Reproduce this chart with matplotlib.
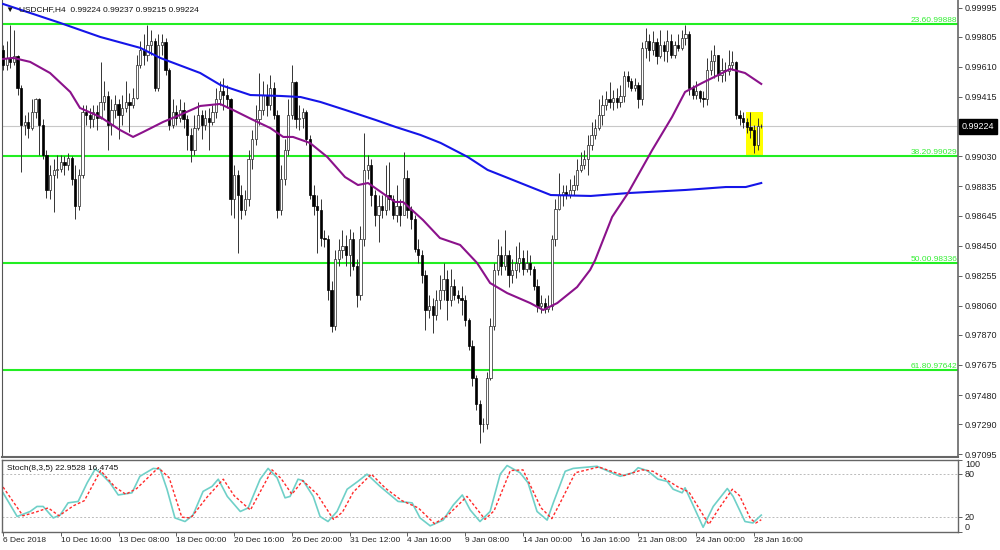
import numpy as np
import matplotlib
matplotlib.use("Agg")
import matplotlib.pyplot as plt
from matplotlib.transforms import blended_transform_factory
from matplotlib.patches import Rectangle

plt.rcParams['font.family'] = ['Liberation Sans', 'DejaVu Sans']

# USDCHF H4 candles, 6 Dec 2018 00:00 -> 29 Jan 2019
first_open = 0.9972
closes = [
    0.9962, 0.9967, 0.9964, 0.9968, 0.9947, 0.9923, 0.9925, 0.9921, 0.9932, 0.9940,
    0.9923, 0.9904, 0.9881, 0.9891, 0.9894, 0.9895, 0.9899, 0.9897, 0.9902, 0.9888,
    0.9871, 0.9891, 0.9932, 0.9930, 0.9927, 0.9932, 0.9928, 0.9938, 0.9942, 0.9923,
    0.9933, 0.9937, 0.9930, 0.9934, 0.9938, 0.9936, 0.9941, 0.9962, 0.9972, 0.9969,
    0.9975, 0.9978, 0.9947, 0.9975, 0.9977, 0.9959, 0.9923, 0.9932, 0.9928, 0.9933,
    0.9927, 0.9917, 0.9907, 0.9921, 0.9930, 0.9923, 0.9928, 0.9925, 0.9932, 0.9940,
    0.9945, 0.9943, 0.9940, 0.9875, 0.9891, 0.9878, 0.9868, 0.9875, 0.9901, 0.9914,
    0.9927, 0.9933, 0.9943, 0.9936, 0.9947, 0.9930, 0.9868, 0.9888, 0.9907, 0.9930,
    0.9951, 0.9927, 0.9928, 0.9932, 0.9914, 0.9878, 0.9871, 0.9868, 0.9850, 0.9849,
    0.9816, 0.9793, 0.9836, 0.9842, 0.9845, 0.9839, 0.9849, 0.9832, 0.9813, 0.9849,
    0.9894, 0.9897, 0.9878, 0.9865, 0.9871, 0.9868, 0.9878, 0.9875, 0.9865, 0.9871,
    0.9865, 0.9889, 0.9868, 0.9862, 0.9843, 0.9839, 0.9826, 0.9803, 0.9806, 0.9800,
    0.9810, 0.9816, 0.9823, 0.9810, 0.9819, 0.9813, 0.9811, 0.9810, 0.9797, 0.9780,
    0.9759, 0.9742, 0.9729, 0.9729, 0.9759, 0.9793, 0.9829, 0.9839, 0.9832, 0.9839,
    0.9826, 0.9829, 0.9834, 0.9837, 0.9830, 0.9834, 0.9830, 0.9819, 0.9806, 0.9808,
    0.9804, 0.9806, 0.9849, 0.9869, 0.9878, 0.9880, 0.9878, 0.9881, 0.9884, 0.9894,
    0.9897, 0.9901, 0.9910, 0.9917, 0.9921, 0.9930, 0.9936, 0.9940, 0.9938, 0.9941,
    0.9938, 0.9942, 0.9955, 0.9952, 0.9947, 0.9949, 0.9940, 0.9973, 0.9978, 0.9972,
    0.9977, 0.9968, 0.9975, 0.9971, 0.9978, 0.9969, 0.9975, 0.9973, 0.9980, 0.9982,
    0.9947, 0.9943, 0.9945, 0.9941, 0.9940, 0.9959, 0.9965, 0.9969, 0.9956, 0.9959,
    0.9958, 0.9962, 0.9964, 0.9930, 0.9928, 0.9925, 0.9922, 0.9920, 0.9910, 0.99224,
    0.99224]
highs = [
    0.9975, 0.9978, 0.9988, 0.9985, 0.9969, 0.9949, 0.9930, 0.9932, 0.9940, 0.9941,
    0.9941, 0.9927, 0.9907, 0.9897, 0.9901, 0.9904, 0.9904, 0.9903, 0.9905, 0.9903,
    0.9897, 0.9895, 0.9936, 0.9936, 0.9934, 0.9936, 0.9936, 0.9964, 0.9952, 0.9945,
    0.9940, 0.9943, 0.9940, 0.9943, 0.9952, 0.9944, 0.9947, 0.9969, 0.9978, 0.9982,
    0.9988, 0.9985, 0.9980, 0.9982, 0.9982, 0.9980, 0.9960, 0.9940, 0.9936, 0.9940,
    0.9938, 0.9930, 0.9921, 0.9930, 0.9938, 0.9933, 0.9933, 0.9934, 0.9936, 0.9947,
    0.9952, 0.9954, 0.9949, 0.9941, 0.9897, 0.9894, 0.9884, 0.9881, 0.9907, 0.9920,
    0.9936, 0.9957, 0.9952, 0.9950, 0.9956, 0.9951, 0.9933, 0.9897, 0.9914, 0.9940,
    0.9962, 0.9952, 0.9936, 0.9934, 0.9933, 0.9917, 0.9884, 0.9878, 0.9875, 0.9855,
    0.9852, 0.9822, 0.9842, 0.9849, 0.9855, 0.9852, 0.9856, 0.9854, 0.9836, 0.9858,
    0.9918, 0.9904, 0.9901, 0.9881, 0.9878, 0.9878, 0.9897, 0.9899, 0.9878, 0.9884,
    0.9875, 0.9906, 0.9894, 0.9871, 0.9865, 0.9849, 0.9842, 0.9829, 0.9813, 0.9811,
    0.9816, 0.9826, 0.9834, 0.9829, 0.9830, 0.9823, 0.9816, 0.9819, 0.9813, 0.9798,
    0.9784, 0.9761, 0.9745, 0.9733, 0.9763, 0.9798, 0.9834, 0.9849, 0.9845, 0.9855,
    0.9842, 0.9836, 0.9845, 0.9847, 0.9842, 0.9842, 0.9839, 0.9832, 0.9823, 0.9813,
    0.9811, 0.9813, 0.9852, 0.9875, 0.9892, 0.9884, 0.9884, 0.9888, 0.9891, 0.9901,
    0.9906, 0.9907, 0.9917, 0.9925, 0.9927, 0.9940, 0.9943, 0.9945, 0.9951, 0.9946,
    0.9947, 0.9949, 0.9958, 0.9958, 0.9954, 0.9954, 0.9951, 0.9977, 0.9986, 0.9982,
    0.9984, 0.9980, 0.9985, 0.9978, 0.9985, 0.9982, 0.9978, 0.9982, 0.9985, 0.9988,
    0.9984, 0.9949, 0.9952, 0.9946, 0.9945, 0.9967, 0.9972, 0.9975, 0.9969, 0.9967,
    0.9964, 0.9972, 0.9971, 0.9965, 0.9933, 0.9932, 0.9928, 0.9932, 0.9923, 0.9928,
    0.99237]
lows = [
    0.9959, 0.9959, 0.9960, 0.9962, 0.9943, 0.9893, 0.9917, 0.9915, 0.9920, 0.9928,
    0.9904, 0.9901, 0.9876, 0.9875, 0.9867, 0.9889, 0.9893, 0.9891, 0.9894, 0.9884,
    0.9862, 0.9868, 0.9889, 0.9923, 0.9921, 0.9922, 0.9920, 0.9927, 0.9933, 0.9907,
    0.9917, 0.9928, 0.9914, 0.9923, 0.9932, 0.9919, 0.9934, 0.9940, 0.9960, 0.9962,
    0.9965, 0.9969, 0.9945, 0.9945, 0.9969, 0.9956, 0.9920, 0.9921, 0.9923, 0.9925,
    0.9921, 0.9907, 0.9899, 0.9904, 0.9920, 0.9914, 0.9920, 0.9907, 0.9923, 0.9928,
    0.9936, 0.9933, 0.9934, 0.9865, 0.9863, 0.9840, 0.9862, 0.9865, 0.9871, 0.9895,
    0.9910, 0.9923, 0.9930, 0.9929, 0.9933, 0.9927, 0.9863, 0.9865, 0.9884, 0.9904,
    0.9927, 0.9921, 0.9920, 0.9921, 0.9910, 0.9875, 0.9865, 0.9840, 0.9845, 0.9844,
    0.9810, 0.9789, 0.9790, 0.9832, 0.9837, 0.9832, 0.9825, 0.9829, 0.9805, 0.9810,
    0.9845, 0.9888, 0.9871, 0.9858, 0.9847, 0.9863, 0.9865, 0.9868, 0.9862, 0.9860,
    0.9858, 0.9865, 0.9863, 0.9856, 0.9841, 0.9834, 0.9821, 0.9790, 0.9798, 0.9788,
    0.9797, 0.9804, 0.9810, 0.9797, 0.9806, 0.9810, 0.9808, 0.9800, 0.9793, 0.9777,
    0.9754, 0.9738, 0.9717, 0.9724, 0.9726, 0.9758, 0.9790, 0.9826, 0.9826, 0.9829,
    0.9818, 0.9821, 0.9824, 0.9828, 0.9826, 0.9828, 0.9826, 0.9816, 0.9802, 0.9801,
    0.9801, 0.9802, 0.9803, 0.9845, 0.9868, 0.9871, 0.9875, 0.9876, 0.9878, 0.9881,
    0.9893, 0.9895, 0.9891, 0.9907, 0.9914, 0.9920, 0.9923, 0.9933, 0.9934, 0.9933,
    0.9934, 0.9935, 0.9938, 0.9948, 0.9945, 0.9945, 0.9934, 0.9936, 0.9967, 0.9965,
    0.9969, 0.9963, 0.9967, 0.9965, 0.9964, 0.9967, 0.9967, 0.9971, 0.9972, 0.9975,
    0.9943, 0.9940, 0.9940, 0.9938, 0.9935, 0.9936, 0.9956, 0.9954, 0.9952, 0.9951,
    0.9952, 0.9956, 0.9959, 0.9927, 0.9923, 0.9921, 0.9918, 0.9915, 0.9905, 0.9907,
    0.99215]

# moving averages, read at points along the lines (bar index, price)
ma_slow_x = [0, 15.8, 26.9, 38, 43.5, 54.6, 60.2, 68.5, 76.8, 82.4, 87.9, 94.8, 103.2,
             108.7, 115.6, 121.2, 128.7, 134.2, 139.8, 146.1, 151.7, 162.8, 173.3,
             189.1, 200.2, 205.7, 210]
ma_slow_y = [1.00018, 0.99895, 0.99804, 0.99733, 0.99668, 0.99570, 0.99492, 0.99427,
             0.99421, 0.99414, 0.99382, 0.99330, 0.99265, 0.99220, 0.99168, 0.99116,
             0.99025, 0.98941, 0.98889, 0.98830, 0.98778, 0.98772, 0.98791, 0.98811,
             0.98830, 0.98830, 0.98856]
ma_fast_x = [0, 2.8, 7.5, 13, 18.6, 21.3, 26.9, 32.4, 36, 38.8, 44.3, 49, 54.6, 60.1,
             63.7, 69.3, 74, 77.6, 80.3, 85, 89.8, 94.7, 98.3, 101.1, 108.6, 110.8,
             116.3, 121, 126.6, 131.3, 134.9, 139.6, 146, 149.6, 153.5, 159, 162.6,
             164, 168.7, 173.1, 179.8, 185.3, 188.9, 193.6, 198.1, 201.4, 205.5, 210]
ma_fast_y = [0.99661, 0.99668, 0.99642, 0.99570, 0.99447, 0.99343, 0.99285, 0.99200,
             0.99155, 0.99187, 0.99252, 0.99298, 0.99356, 0.99369, 0.99330, 0.99265,
             0.99213, 0.99155, 0.99155, 0.99116, 0.99025, 0.98895, 0.98843, 0.98856,
             0.98733, 0.98733, 0.98616, 0.98499, 0.98454, 0.98337, 0.98207, 0.98142,
             0.98077, 0.98032, 0.98077, 0.98181, 0.98292, 0.98356, 0.98636, 0.98791,
             0.99070, 0.99285, 0.99447, 0.99505, 0.99557, 0.99596, 0.99570, 0.99499]

# fibonacci levels
fib_pct = ["23.6", "38.2", "50.0", "61.8"]
fib_price = [0.99888, 0.99029, 0.98336, 0.97642]

# stochastic (8,3,5)
k_x = [0, 3.9, 7.5, 9.4, 11.1, 13.9, 15.8, 18, 20.8, 23.3, 25.5, 26.9, 29.6, 31.9, 35.7,
       37.9, 41.6, 43.5, 45.4, 47.6, 50.4, 52.6, 55.4, 57.9, 59.6, 62.1, 65.7, 67.9,
       71.2, 73.4, 75.9, 78.1, 79.5, 81.7, 83.1, 85.9, 87.8, 90, 92.5, 95.3, 98.3,
       100.8, 104.4, 109.4, 113.3, 115.5, 118.3, 121.9, 124.7, 127.2, 129.4, 132.1,
       134.9, 137.7, 139.6, 143.2, 145.4, 147.9, 150.7, 152.4, 155.7, 157.9, 164.5,
       170.9, 174.5, 175.9, 178.4, 181.4, 183.9, 185.6, 188.1, 188.9, 191.1, 193.9,
       196.7, 200.6, 202.2, 205.5, 207.7, 210]
k_val = [54, 21, 28, 35, 35, 19, 23, 40, 42, 68, 87, 82, 68, 51, 54, 77, 88, 87, 59, 19,
         14, 23, 56, 63, 73, 49, 28, 33, 73, 88, 75, 47, 49, 73, 71, 49, 21, 14, 28, 59,
         70, 80, 63, 42, 40, 19, 8, 16, 37, 51, 30, 14, 28, 80, 92, 82, 68, 28, 16, 40,
         84, 88, 91, 77, 82, 89, 85, 73, 70, 59, 54, 61, 37, 6, 35, 60, 49, 14, 12, 22.95]
d_x = [0, 5.5, 9, 12.5, 15.5, 19.5, 22.5, 27, 31, 34, 37, 43, 46, 49.5, 52, 56.5, 61, 64,
       68.5, 74.5, 77, 80, 83, 87, 91.5, 94, 97, 102, 106, 110.5, 115, 119.5, 123,
       128.5, 131, 133.5, 136, 140.5, 144, 149, 152, 154, 158.5, 165, 172, 177, 180,
       187, 190, 195.5, 198, 202, 204, 207, 208.5, 210]
d_val = [62, 22, 27, 33, 22, 36, 43, 85, 62, 52, 60, 89, 75, 20, 19, 48, 73, 50, 30, 86,
         74, 52, 71, 52, 17, 27, 55, 80, 60, 43, 33, 11, 22, 49, 33, 17, 29, 85, 86, 33,
         18, 37, 82, 90, 78, 86, 84, 62, 55, 10, 30, 59, 50, 18, 12, 16.47]

date_labels = ["6 Dec 2018", "10 Dec 16:00", "13 Dec 08:00", "18 Dec 00:00",
               "20 Dec 16:00", "26 Dec 20:00", "31 Dec 12:00", "4 Jan 16:00",
               "9 Jan 08:00", "14 Jan 00:00", "16 Jan 16:00", "21 Jan 08:00",
               "24 Jan 00:00", "28 Jan 16:00"]
price_ticks = [0.99995, 0.99805, 0.99610, 0.99415, 0.99030, 0.98835, 0.98645, 0.98450,
               0.98255, 0.98060, 0.97870, 0.97675, 0.97480, 0.97290, 0.97095]
last_price = 0.99224
box_bars = (205.8, 210.5)
box_prices = (0.99038, 0.99317)

closes = np.array(closes)
highs = np.array(highs)
lows = np.array(lows)
opens = np.r_[first_open, closes[:-1]]
idx = np.arange(len(closes))

fig = plt.figure(figsize=(10, 5.5), dpi=100)
ax = fig.add_axes([0.002, 0.169, 0.956, 0.831])
ax2 = fig.add_axes([0.002, 0.0335, 0.956, 0.1305], sharex=ax)

xlim = (-0.3, 264.5)
ax.set_xlim(*xlim)
ax.set_ylim(0.970776, 1.000437)

# yellow box behind candles
ax.add_patch(Rectangle((box_bars[0], box_prices[0]), box_bars[1] - box_bars[0],
                       box_prices[1] - box_prices[0], facecolor='#ffff00',
                       edgecolor='none', zorder=1))

for p in fib_price:
    ax.axhline(p, color='#22ee22', lw=1.5, zorder=2)
trans = blended_transform_factory(ax.transAxes, ax.transData)
for pct, p in zip(fib_pct, fib_price):
    ax.text(0.999, p + 0.00003, "%s%.5f" % (pct, p), transform=trans, ha='right',
            va='bottom', fontsize=6, color='#33ee33', zorder=6)

ax.axhline(last_price, color='#c8c8c8', lw=0.8, zorder=2)

# candles
up = closes >= opens
body_lo = np.minimum(opens, closes)
body_h = np.maximum(np.abs(closes - opens), 0.00002)
ax.vlines(idx, lows, highs, color='#333333', lw=0.7, zorder=3)
ax.bar(idx[up], body_h[up], bottom=body_lo[up], width=0.62, facecolor='white',
       edgecolor='#222222', linewidth=0.5, zorder=4)
ax.bar(idx[~up], body_h[~up], bottom=body_lo[~up], width=0.62, facecolor='black',
       edgecolor='black', linewidth=0.5, zorder=4)

ax.plot(ma_slow_x, ma_slow_y, color='#1515e8', lw=1.5, zorder=5)
ax.plot(ma_fast_x, ma_fast_y, color='#8b128b', lw=1.5, zorder=5)

ax.yaxis.tick_right()
ax.set_yticks(price_ticks)
ax.set_yticklabels(["%.5f" % v for v in price_ticks])
ax.tick_params(axis='y', labelsize=6.5, length=3, width=0.6, color='#444',
               labelcolor='#222', pad=2)
ax.tick_params(axis='x', bottom=False, labelbottom=False)
ax.spines['top'].set_visible(False)
ax.spines['left'].set_color('#555')
ax.spines['left'].set_linewidth(0.8)
ax.spines['right'].set_color('#666')
ax.spines['right'].set_linewidth(1.2)
ax.spines['bottom'].set_color('#666')
ax.spines['bottom'].set_linewidth(1.5)

ax.text(1.004, last_price, "%.5f" % last_price, transform=trans, ha='left',
        va='center', fontsize=6.5, color='white',
        bbox=dict(boxstyle='square,pad=0.3', fc='black', ec='black'))

fig.text(0.006, 1 - 10 / 550, "\u25bc  USDCHF,H4  0.99224 0.99237 0.99215 0.99224",
         fontsize=6, va='center', ha='left', color='#111')

# stochastic panel
ax2.set_ylim(0, 100)
ax2.axhline(80, color='#bbbbbb', lw=0.7, ls=(0, (2, 2)))
ax2.axhline(20, color='#bbbbbb', lw=0.7, ls=(0, (2, 2)))
ax2.plot(k_x, k_val, color='#6fd0c8', lw=1.2)
ax2.plot(d_x, d_val, color='#ff2a2a', lw=1.0, ls=(0, (2, 1.5)))
ax2.yaxis.tick_right()
ax2.set_yticks([0, 20, 80, 100])
ax2.set_yticklabels(["0", "20", "80", "100"])
ax2.tick_params(axis='y', labelsize=6.5, length=3, width=0.6, color='#444',
                labelcolor='#222', pad=2)
for lab, va in zip(ax2.get_yticklabels(), ['bottom', 'center', 'center', 'top']):
    lab.set_verticalalignment(va)
ax2.set_xticks(np.arange(len(date_labels)) * 16)
ax2.set_xticklabels(date_labels)
ax2.tick_params(axis='x', labelsize=6, length=3, width=0.6, color='#444',
                labelcolor='#222', pad=1)
for lab in ax2.get_xticklabels():
    lab.set_horizontalalignment('left')
for s in ax2.spines.values():
    s.set_color('#666')
    s.set_linewidth(1.0)
ax2.set_xlim(*xlim)
ax2.text(0.005, 0.93, "Stoch(8,3,5) 22.9528 16.4745", transform=ax2.transAxes,
         fontsize=6, va='top', ha='left', color='#111')

fig.savefig("out.png", dpi=100, facecolor='white')
